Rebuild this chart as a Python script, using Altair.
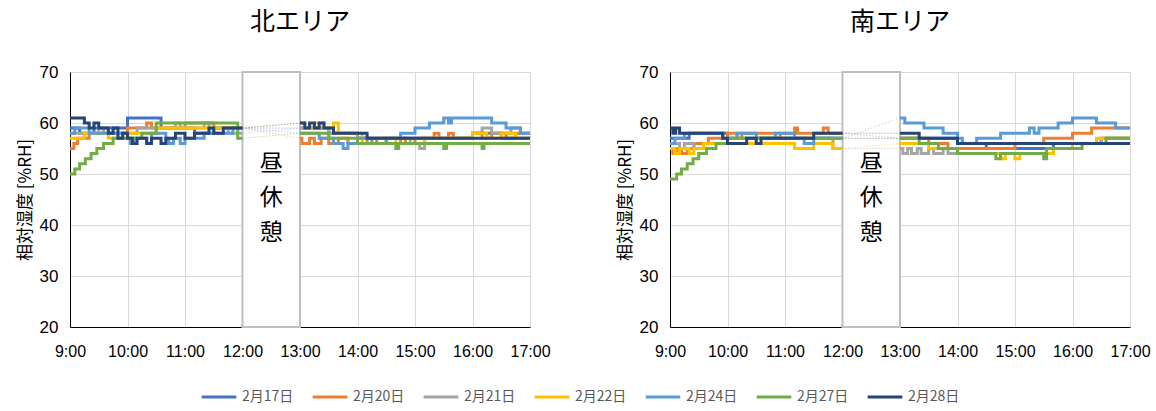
import altair as alt
import pandas as pd

# Series labels and Office-style colours
dates = ["2月17日", "2月20日", "2月21日", "2月22日", "2月24日", "2月27日", "2月28日"]
colors = ["#4472C4", "#ED7D31", "#A5A5A5", "#FFC000", "#5B9BD5", "#70AD47", "#264478"]

hour_ticks = [9, 10, 11, 12, 13, 14, 15, 16, 17]
rh_ticks = [20, 30, 40, 50, 60, 70]
lunch = [12, 13]
lunch_chars = ["昼", "休", "憩"]
lunch_char_y = [52.0, 45.2, 38.4]

# Step change points: [minutes after 9:00, %RH]; morning <= 180, afternoon >= 240
north = {
    "2月17日": [[0, 59], [10, 58], [25, 59], [60, 61], [95, 59], [130, 58], [150, 59],
               [240, 59], [270, 58], [300, 57], [420, 58], [450, 57]],
    "2月20日": [[0, 55], [4, 56], [8, 57], [20, 58], [60, 59], [80, 60], [85, 59], [120, 60], [150, 59],
               [240, 57], [242, 56], [250, 57], [255, 56], [262, 57], [270, 56], [280, 57], [290, 56],
               [300, 57], [310, 56], [320, 57], [330, 56], [345, 57], [350, 56], [360, 57], [380, 58],
               [385, 57], [395, 58], [400, 57], [420, 58], [430, 57], [440, 58], [455, 57], [465, 58]],
    "2月21日": [[0, 58], [30, 59], [35, 58], [70, 59], [110, 60], [115, 59], [140, 60], [145, 59], [165, 58],
               [240, 59], [270, 58], [300, 57], [355, 56], [365, 55], [370, 57], [420, 58], [430, 59],
               [440, 58], [460, 59], [470, 58]],
    "2月22日": [[0, 57], [15, 58], [40, 57], [60, 58], [90, 59],
               [240, 60], [245, 59], [255, 60], [265, 59], [275, 60], [280, 58], [305, 56], [330, 57],
               [340, 56], [370, 57], [420, 58], [435, 57], [450, 58], [465, 57]],
    "2月24日": [[0, 58], [5, 59], [20, 58], [60, 57], [63, 56], [67, 57], [80, 56], [85, 58], [100, 57],
               [103, 56], [108, 57], [115, 56], [120, 57], [140, 58], [170, 59],
               [240, 58], [260, 57], [275, 56], [285, 55], [290, 56], [300, 57], [315, 56], [330, 57],
               [345, 58], [360, 59], [375, 60], [390, 61], [395, 60], [398, 61], [440, 60], [455, 59],
               [470, 58]],
    "2月27日": [[0, 50], [5, 51], [10, 52], [16, 53], [22, 54], [28, 55], [35, 56], [45, 57], [75, 58],
               [90, 60], [170, 60], [175, 57],
               [240, 58], [270, 57], [300, 56], [340, 55], [343, 56], [390, 55], [393, 56], [430, 55],
               [432, 56]],
    "2月28日": [[0, 61], [15, 60], [20, 59], [25, 60], [30, 59], [40, 58], [45, 59], [50, 57], [55, 58],
               [60, 57], [65, 56], [70, 57], [80, 56], [85, 57], [95, 56], [100, 57], [110, 58],
               [120, 57], [130, 58], [145, 59], [150, 58], [160, 59],
               [240, 60], [245, 59], [250, 60], [255, 59], [260, 60], [265, 59], [275, 58], [310, 57]],
}

south = {
    "2月17日": [[0, 57], [20, 58], [60, 57],
               [240, 57], [300, 56], [330, 55], [400, 56], [450, 57]],
    "2月20日": [[0, 55], [3, 54], [8, 55], [12, 54], [18, 55], [25, 56], [40, 57], [60, 58], [70, 57],
               [75, 58], [110, 57], [115, 58], [130, 59], [133, 58], [160, 59], [165, 58],
               [240, 57], [270, 56], [290, 55], [360, 56], [390, 57], [420, 58], [440, 59]],
    "2月21日": [[0, 56], [10, 55], [15, 56], [25, 55], [35, 56], [90, 57], [170, 55],
               [240, 55], [243, 54], [248, 55], [252, 54], [258, 55], [262, 54], [270, 55], [275, 54],
               [285, 55], [290, 54], [400, 55], [420, 56], [450, 57]],
    "2月22日": [[0, 55], [5, 54], [10, 55], [20, 54], [25, 55], [35, 56], [130, 55], [150, 56], [170, 55],
               [240, 56], [270, 55], [300, 54], [345, 53], [350, 54], [360, 53], [365, 54], [400, 55],
               [420, 56], [445, 57]],
    "2月24日": [[0, 56], [5, 57], [15, 58], [55, 57], [70, 58], [90, 57], [110, 58], [130, 57], [140, 56],
               [150, 57],
               [240, 61], [245, 60], [265, 59], [285, 58], [300, 57], [305, 56], [320, 57], [345, 58],
               [375, 59], [380, 58], [385, 59], [405, 60], [420, 61], [445, 60], [465, 59]],
    "2月27日": [[0, 49], [7, 50], [12, 51], [18, 52], [24, 53], [30, 54], [38, 55], [48, 56], [60, 57],
               [240, 57], [260, 56], [280, 55], [300, 54], [340, 53], [345, 54], [390, 53], [393, 55],
               [430, 56], [455, 57]],
    "2月28日": [[0, 59], [3, 58], [6, 59], [10, 58], [55, 57], [60, 56], [80, 57], [90, 56], [95, 57],
               [150, 58],
               [240, 58], [260, 57], [300, 56], [420, 56]],
}


def build(panel, series):
    rows, links = [], []
    for name, pts in series.items():
        am = [p for p in pts if p[0] <= 180]
        pm = [p for p in pts if p[0] >= 240]
        am = am + [[180, am[-1][1]]]
        pm = pm + [[480, pm[-1][1]]]
        for seg, part in (("am", am), ("pm", pm)):
            for m, v in part:
                rows.append({"panel": panel, "series": name, "seg": seg, "t": 9 + m / 60, "v": v})
        links.append({"panel": panel, "series": name, "t": 12, "v": am[-1][1]})
        links.append({"panel": panel, "series": name, "t": 13, "v": pm[0][1]})
    return pd.DataFrame(rows), pd.DataFrame(links)


color_scale = alt.Scale(domain=dates, range=colors)
x_scale = alt.Scale(domain=[9, 17], nice=False, zero=False)
y_scale = alt.Scale(domain=[20, 70], nice=False, zero=False)
color_enc = alt.Color("series:N", scale=color_scale, sort=dates, title=None)


def panel(title, series):
    lines_df, link_df = build(title, series)
    x_axis = alt.Axis(values=hour_ticks, labelExpr="datum.value + ':00'", title=None,
                      grid=True, gridColor="#D9D9D9", domainColor="#000000", ticks=False,
                      labelFontSize=16, labelFont="Liberation Sans", labelColor="#000000",
                      labelPadding=16, labelFlush=False)
    y_axis = alt.Axis(values=rh_ticks, title="相対湿度 [%RH]", grid=True, gridColor="#D9D9D9",
                      domainColor="#000000", ticks=False, labelFontSize=17,
                      labelFont="Liberation Sans", labelColor="#000000", labelPadding=12,
                      titleFont="Noto Sans CJK JP", titleFontSize=17, titleFontWeight="normal",
                      titleColor="#000000", titlePadding=5)

    box = alt.Chart(pd.DataFrame({"x": [lunch[0]], "x2": [lunch[1]], "y": [20], "y2": [70]})).mark_rect(
        fill="white", stroke="#BFBFBF", strokeWidth=2
    ).encode(
        x=alt.X("x:Q", scale=x_scale, axis=x_axis),
        x2="x2:Q",
        y=alt.Y("y:Q", scale=y_scale, axis=y_axis),
        y2="y2:Q",
    )

    # faint dotted joins across the lunch break
    links = alt.Chart(link_df).mark_line(strokeWidth=1, strokeDash=[1, 2], opacity=0.6).encode(
        x=alt.X("t:Q", scale=x_scale),
        y=alt.Y("v:Q", scale=y_scale),
        color=color_enc,
        detail="series:N",
    )

    lines = alt.Chart(lines_df).mark_line(interpolate="step-after", strokeWidth=3).encode(
        x=alt.X("t:Q", scale=x_scale),
        y=alt.Y("v:Q", scale=y_scale),
        color=color_enc,
        detail="seg:N",
        order="t:Q",
    )

    text = alt.Chart(pd.DataFrame({"c": lunch_chars, "y": lunch_char_y, "x": [12.5] * 3})).mark_text(
        fontSize=23, font="Noto Sans CJK JP", color="#000000"
    ).encode(x=alt.X("x:Q", scale=x_scale), y=alt.Y("y:Q", scale=y_scale), text="c:N")

    return alt.layer(box, links, lines, text).properties(
        width=460, height=255,
        title=alt.Title(title, fontSize=25, font="Noto Sans CJK JP", fontWeight="normal",
                        color="#000000", offset=28),
    )


chart = alt.hconcat(panel("北エリア", north), panel("南エリア", south), spacing=65).resolve_scale(
    color="shared"
).properties(
    padding={"left": 16, "top": 10, "right": 5, "bottom": 5}
).configure_view(stroke=None).configure_concat(spacing=65).configure_legend(
    orient="none", legendX=130, legendY=306, direction="horizontal", columns=7,
    symbolType="stroke", symbolStrokeWidth=3, symbolSize=1200, symbolOpacity=1,
    labelFontSize=14, labelColor="#595959", labelFont="Noto Sans CJK JP",
    columnPadding=12, labelOffset=4,
)

chart.save("out.html", embed_options={"renderer": "svg", "actions": False})
